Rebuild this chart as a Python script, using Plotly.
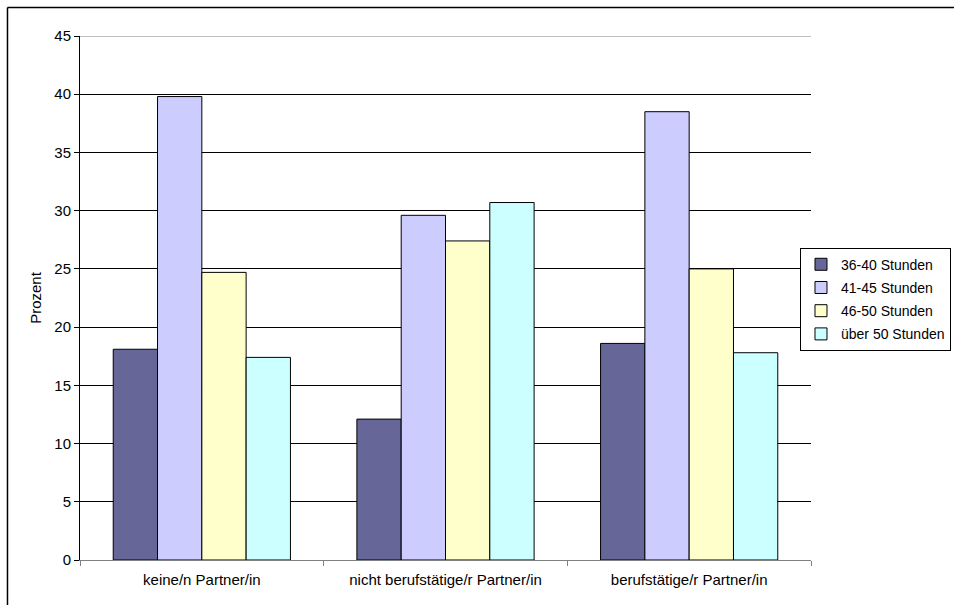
import plotly.graph_objects as go

categories = ["keine/n Partner/in", "nicht berufstätige/r Partner/in", "berufstätige/r Partner/in"]
series_names = ["36-40 Stunden", "41-45 Stunden", "46-50 Stunden", "über 50 Stunden"]
s_36_40 = [18.1, 12.1, 18.6]
s_41_45 = [39.8, 29.6, 38.5]
s_46_50 = [24.7, 27.4, 25.0]
s_ueber_50 = [17.4, 30.7, 17.8]
colors = ["#666699", "#CCCCFF", "#FFFFCC", "#CCFFFF"]
y_ticks = [0, 5, 10, 15, 20, 25, 30, 35, 40, 45]

FONT = "Liberation Sans, Arial, sans-serif"

fig = go.Figure()
for name, vals, col in zip(series_names, [s_36_40, s_41_45, s_46_50, s_ueber_50], colors):
    fig.add_trace(go.Bar(
        x=categories, y=vals, name=name, legendgroup=name,
        marker=dict(color=col, line=dict(color="#000000", width=1)),
    ))

fig.update_layout(
    width=954, height=605,
    margin=dict(l=80, r=143, t=36, b=44.5, autoexpand=False),
    paper_bgcolor="white", plot_bgcolor="white",
    barmode="group", bargap=0.2727, bargroupgap=0,
    font=dict(family=FONT, size=15, color="black"),
    legend=dict(
        x=1.1915, y=0.596, xanchor="right", yanchor="top",
        bordercolor="black", borderwidth=1, bgcolor="white",
        font=dict(family=FONT, size=14, color="black"),
        tracegroupgap=2, itemwidth=30,
    ),
    showlegend=True,
)
fig.update_yaxes(
    range=[0, 45], tickvals=y_ticks, showgrid=True, gridcolor="black", gridwidth=1,
    zeroline=False, showline=True, linecolor="black", linewidth=1,
    ticks="outside", ticklen=5, tickcolor="black",
    title=dict(text="Prozent", standoff=9, font=dict(size=15)),
    tickfont=dict(size=15),
)
fig.update_xaxes(
    showline=True, linecolor="#808080", linewidth=1,
    ticks="outside", ticklen=5, tickcolor="#808080", tickson="boundaries",
    tickfont=dict(size=15), ticklabelstandoff=6,
)
# plot area top border (grey) and outer chart frame
fig.add_shape(type="line", xref="paper", yref="y", x0=0, x1=1, y0=45, y1=45,
              line=dict(color="#808080", width=1), layer="above")
fig.add_shape(type="line", xref="paper", yref="paper", x0=-0.0992, x1=-0.0992, y0=1.0543, y1=-0.2,
              line=dict(color="black", width=1.5))
fig.add_shape(type="line", xref="paper", yref="paper", x0=-0.0992, x1=1.3, y0=1.0543, y1=1.0543,
              line=dict(color="black", width=1.5))

fig.write_html("out.html")
